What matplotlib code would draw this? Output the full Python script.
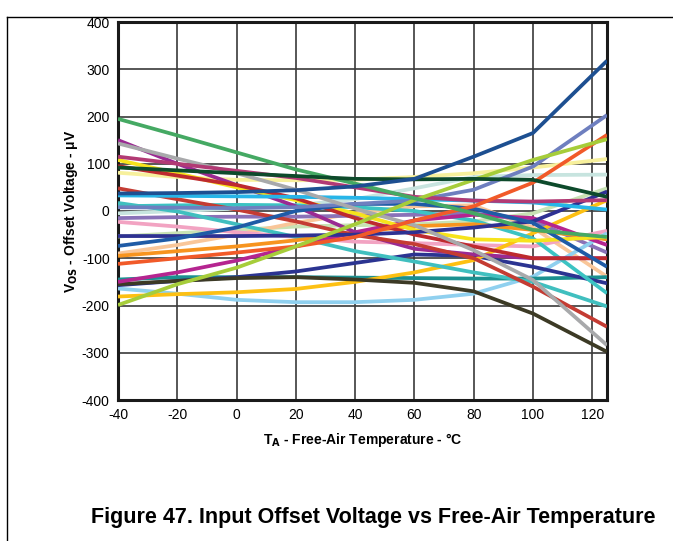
import matplotlib
matplotlib.use("Agg")
import matplotlib.pyplot as plt
from matplotlib.lines import Line2D

plt.rcParams['font.family'] = ['Liberation Sans', 'DejaVu Sans']

# ---- data ----
temperature = [-40, -20, 0, 20, 40, 60, 80, 100, 125]

vos_green        = [195, 160, 124, 88, 58, 27, -5, -40, -55]
vos_blue_top     = [37, 38, 40, 44, 52, 68, 115, 165, 318]
vos_slate        = [8, 7, 6, 8, 15, 22, 45, 94, 203]
vos_red_orange   = [-112, -100, -88, -75, -55, -20, 10, 60, 161]
vos_yellow_green = [-199, -155, -120, -75, -28, 23, 66, 108, 152]
vos_pale_yellow  = [81, 72, 66, 65, 66, 72, 80, 92, 110]
vos_pale_teal    = [-5, 0, 5, 12, 25, 48, 72, 76, 77]
vos_dark_green   = [92, 86, 80, 74, 68, 67, 68, 66, 30]
vos_maroon       = [115, 100, 85, 70, 50, 30, 22, 20, 23]
vos_cyan         = [33, 32, 31, 30, 28, 25, 22, 18, 3]
vos_gray         = [143, 111, 80, 45, 5, -30, -83, -146, -284]
vos_olive        = [-155, -148, -142, -140, -145, -152, -170, -217, -298]
vos_light_blue   = [-164, -175, -188, -193, -193, -188, -175, -139, -47]
vos_gold         = [-181, -176, -172, -165, -150, -130, -104, -47, 23]
vos_teal_dark    = [-145, -140, -140, -140, -141, -142, -143, -143, -140]
vos_navy_low     = [-157, -148, -140, -128, -110, -92, -95, -118, -153]
vos_navy_up      = [-53, -53, -53, -52, -50, -45, -35, -22, 41]
vos_blue_mid     = [-74, -58, -35, 0, 15, 15, 5, -25, -118]
vos_peach        = [-90, -72, -50, -25, -5, 10, 12, -35, -139]
vos_orange       = [-95, -85, -75, -62, -45, -32, -28, -40, -60]
vos_turq_a       = [17, -1, -28, -55, -85, -107, -130, -150, -202]
vos_turq_b       = [10, 12, 13, 12, 8, 0, -20, -58, -174]
vos_lavender     = [-15, -13, -12, -12, -10, -8, -5, -20, -88]
vos_pink         = [-23, -33, -45, -55, -65, -68, -72, -75, -42]
vos_light_green  = [-54, -47, -40, -33, -30, -28, -22, -5, 48]
vos_yellow       = [108, 80, 50, 23, -5, -40, -60, -63, -55]
vos_red_a        = [95, 75, 55, 27, -15, -50, -75, -100, -100]
vos_red_b        = [48, 25, 3, -22, -51, -70, -100, -160, -245]
vos_purple       = [150, 100, 55, 10, -45, -80, -92, -100, -100]
vos_magenta      = [-150, -130, -105, -75, -45, -20, -8, -15, -72]

x_ticks = [-40, -20, 0, 20, 40, 60, 80, 100, 120]
y_ticks = [-400, -300, -200, -100, 0, 100, 200, 300, 400]

series = [
    (vos_pale_teal, '#c7e4df'),
    (vos_light_green, '#c8e2b4'),
    (vos_pale_yellow, '#f7f09c'),
    (vos_peach, '#f9c699'),
    (vos_pink, '#f2a3c2'),
    (vos_lavender, '#8a72b8'),
    (vos_light_blue, '#8fd0ef'),
    (vos_teal_dark, '#1b9090'),
    (vos_navy_low, '#2b3491'),
    (vos_gold, '#fdc013'),
    (vos_olive, '#3c3a25'),
    (vos_turq_b, '#3cc3c3'),
    (vos_turq_a, '#40bfbf'),
    (vos_orange, '#f7941f'),
    (vos_magenta, '#b52590'),
    (vos_purple, '#9a2a92'),
    (vos_yellow, '#f6e31c'),
    (vos_red_a, '#be2a2e'),
    (vos_red_b, '#c43c33'),
    (vos_navy_up, '#2e3192'),
    (vos_blue_mid, '#1f5ba6'),
    (vos_cyan, '#27b5e8'),
    (vos_slate, '#6e7fbf'),
    (vos_gray, '#a8a9ab'),
    (vos_maroon, '#b23a74'),
    (vos_red_orange, '#f15a29'),
    (vos_yellow_green, '#a6cd3a'),
    (vos_green, '#45a963'),
    (vos_dark_green, '#0d4a2b'),
    (vos_blue_top, '#1d4f91'),
]

fig = plt.figure(figsize=(6.73, 5.41), dpi=100)
ax = fig.add_axes([118 / 673, 1 - 400 / 541, (607 - 118) / 673, (400 - 22) / 541])

for vals, col in series:
    ax.plot(temperature, vals, color=col, lw=2.7, solid_capstyle='butt', zorder=3)

ax.set_xlim(-40, 125)
ax.set_ylim(-400, 400)
ax.set_xticks(x_ticks)
ax.set_yticks(y_ticks)
ax.set_xticklabels([str(t) for t in x_ticks])
ax.set_yticklabels([str(t) for t in y_ticks])
ax.tick_params(length=0, labelsize=10, pad=6)
ax.grid(True, color='#3a3a3a', lw=1.2, zorder=1)
ax.set_axisbelow(True)
for s in ax.spines.values():
    s.set_linewidth(2.2)
    s.set_color('#1a1a1a')

ax.set_xlabel(r'T$_\mathbf{A}$ - Free-Air Temperature - °C', fontsize=10, fontweight='bold', labelpad=6)
ax.set_ylabel(r'V$_\mathbf{OS}$ - Offset Voltage - μV', fontsize=10, fontweight='bold')
ax.yaxis.set_label_coords((80 - 118) / 489, 0.5)

fig.text(373 / 673, 1 - 517 / 541, 'Figure 47. Input Offset Voltage vs Free-Air Temperature',
         ha='center', va='center', fontsize=15.5, fontweight='bold')

# page border lines
fig.add_artist(Line2D([7 / 673, 1.0], [1 - 17 / 541, 1 - 17 / 541], color='black', lw=1.0,
                      transform=fig.transFigure))
fig.add_artist(Line2D([7 / 673, 7 / 673], [0.0, 1 - 17 / 541], color='black', lw=1.0,
                      transform=fig.transFigure))

fig.savefig('out.png', dpi=100)
